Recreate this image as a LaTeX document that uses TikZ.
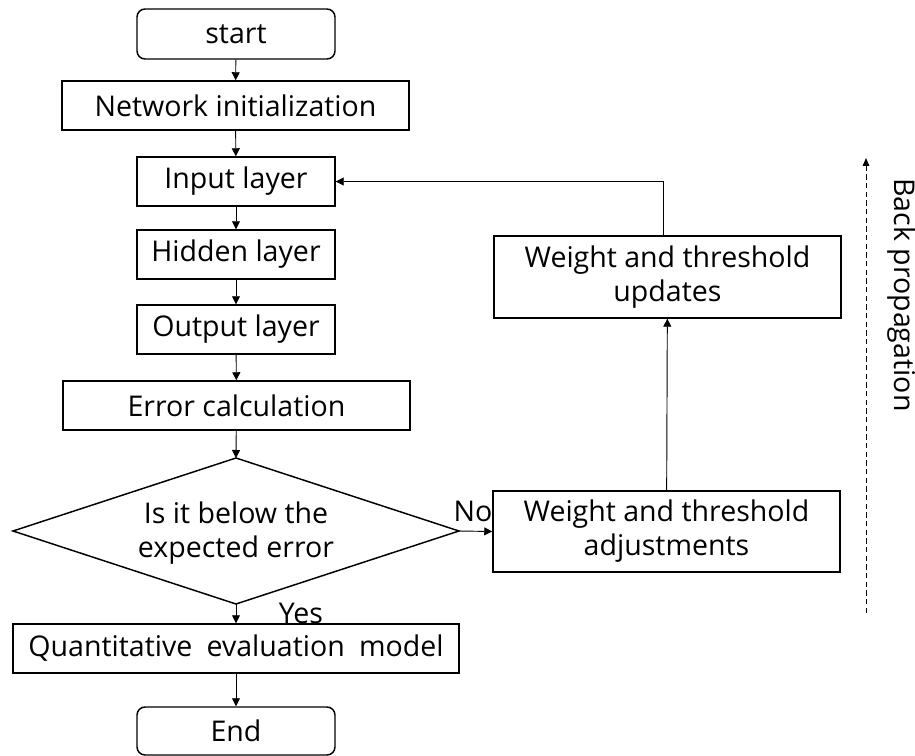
\documentclass[tikz,border=0pt]{standalone}
\usepackage{fontspec}
\setmainfont{Open Sans}
\usetikzlibrary{arrows.meta}
\begin{document}
\begin{tikzpicture}[x=0.75pt,y=-0.75pt,
  box/.style={draw,line width=1.1pt,inner sep=0pt,align=center,font=\fontsize{21.4pt}{25.5pt}\selectfont},
  rbox/.style={box,rounded corners=6pt},
  lbl/.style={inner sep=0pt,font=\fontsize{21.4pt}{25.5pt}\selectfont},
  conn/.style={line width=0.7pt,-{Triangle[length=6pt,width=6pt]}},
  ]
\useasboundingbox (0,0) rectangle (915,756);
\node[rbox,minimum width=148.5pt,minimum height=37.5pt] (start) at (236,34) {start};
\node[box,minimum width=260.25pt,minimum height=36.75pt] (init) at (235.5,105.5) {Network initialization};
\node[box,minimum width=148.5pt,minimum height=36.75pt] (input) at (236,181.5) {Input layer};
\node[box,minimum width=148.5pt,minimum height=36.75pt] (hidden) at (236,254.5) {Hidden layer};
\node[box,minimum width=148.5pt,minimum height=36.75pt] (output) at (236,329.5) {Output layer};
\node[box,minimum width=260.25pt,minimum height=36.75pt] (error) at (236.5,405.5) {Error calculation};
\coordinate (dt) at (236,458);
\coordinate (db) at (236,604);
\coordinate (dl) at (13,531);
\coordinate (dr) at (459,531);
\draw[line width=1.1pt,line join=miter] (dt) -- (dr) -- (db) -- (dl) -- cycle;
\node[lbl,align=center] (dtext) at (236,533) {Is it below the\\expected error};
\node[box,minimum width=334.5pt,minimum height=36.75pt] (quant) at (236,648.5) {Quantitative\hspace{0.5em}evaluation\hspace{0.5em}model};
\node[rbox,minimum width=148.5pt,minimum height=36pt] (end) at (236,731) {End};
\node[box,minimum width=260.25pt,minimum height=61.5pt] (upd) at (667.5,277) {Weight and threshold\\updates};
\node[box,minimum width=260.25pt,minimum height=60.75pt] (adj) at (666.5,531.5) {Weight and threshold\\adjustments};
\node[lbl] (no) at (473,511) {No};
\node[lbl] (yes) at (301,613) {Yes};
\draw[conn] (start) -- (init);
\draw[conn] (init) -- (input);
\draw[conn] (input) -- (hidden);
\draw[conn] (hidden) -- (output);
\draw[conn] (output) -- (error);
\draw[conn] (error) -- (dt);
\draw[conn] (db) -- (quant);
\draw[conn] (quant) -- (end);
\draw[conn] (dr) -- (adj.west);
\draw[conn] (adj) -- (upd);
\draw[conn] (upd.north -| 663,0) |- (input.east);
\coordinate (bpb) at (866,613);
\coordinate (bpt) at (866,158);
\draw[line width=0.7pt,dashed,dash pattern=on 4pt off 2.5pt,-{Triangle[length=6pt,width=5pt]}] (bpb) -- (bpt);
\node[lbl,rotate=-90] (bp) at (902,295) {Back propagation};
\end{tikzpicture}
\end{document}
